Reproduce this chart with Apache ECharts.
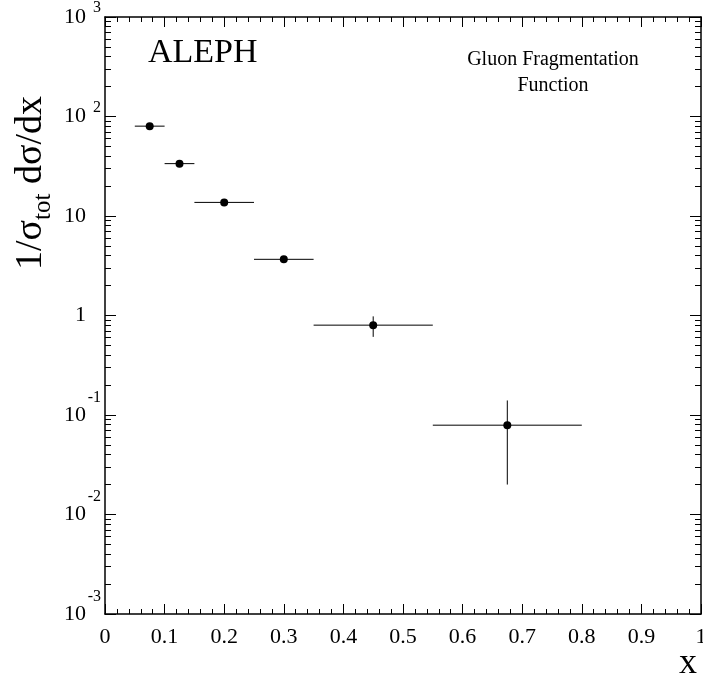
<!DOCTYPE html>
<html>
<head>
<meta charset="utf-8">
<script src="https://cdn.jsdelivr.net/npm/echarts@6/dist/echarts.min.js"></script>
<style>html,body{margin:0;padding:0;background:#fff}#c{width:703px;height:685px}</style>
</head>
<body>
<div id="c"></div>
<script>
// ---- data ----
var xCenter = [0.075, 0.125, 0.2, 0.3, 0.45, 0.675];
var xLow    = [0.05, 0.1, 0.15, 0.25, 0.35, 0.55];
var xHigh   = [0.1, 0.15, 0.25, 0.35, 0.55, 0.8];
var yValue  = [80, 33.6, 13.7, 3.67, 0.80, 0.079];
var yLow    = [77, 32.4, 13.2, 3.5, 0.61, 0.020];
var yHigh   = [83, 34.8, 14.2, 3.85, 0.98, 0.14];
var xTickLabels = ['0','0.1','0.2','0.3','0.4','0.5','0.6','0.7','0.8','0.9','1'];
var yDecades = [-3, -2, -1, 0, 1, 2];
var yMinorMantissas = [2, 3, 4, 5, 6, 7, 8, 9];

var yMinorExp = [];
yDecades.forEach(function (e) { yMinorMantissas.forEach(function (m) { yMinorExp.push(e + Math.log10(m)); }); });

var FONT = '"Liberation Serif", "Times New Roman", serif';
var chart = echarts.init(document.getElementById('c'), null, {renderer: 'canvas'});

var pts = xCenter.map(function (x, i) { return [x, yValue[i], xLow[i], xHigh[i], yLow[i], yHigh[i]]; });

function yLabel(v) {
  var e = Math.round(Math.log10(v));
  if (e === 0) return '{a|1}{p| }';
  if (e === 1) return '{a|10}{p| }';
  return '{a|10}{' + (e > 0 ? 'sp' : 'sn') + '|' + e + '}';
}

var lineStyle = {color: '#000', width: 1.5};
var baseX = {
  type: 'value', min: 0, max: 1, interval: 0.1,
  axisLine: {show: true, onZero: false, lineStyle: lineStyle},
  axisTick: {show: true, inside: true, length: 10, lineStyle: {color: '#000', width: 1}},
  minorTick: {show: true, splitNumber: 5, length: 5, lineStyle: {color: '#000', width: 1}},
  splitLine: {show: false}, minorSplitLine: {show: false}
};
var xBottom = Object.assign({}, baseX, {
  position: 'bottom',
  axisLabel: {show: true, margin: 12, color: '#000', fontFamily: FONT, fontSize: 22,
    showMaxLabel: true, showMinLabel: true, hideOverlap: false,
    formatter: function (v) { return xTickLabels[Math.round(v * 10)]; }}
});
var xTop = Object.assign({}, baseX, {position: 'top', axisLabel: {show: false}});

function yMajor(pos, labels) {
  return {
    type: 'log', logBase: 10, min: 0.001, max: 1000, position: pos,
    axisLine: {show: true, onZero: false, lineStyle: lineStyle},
    axisTick: {show: true, inside: true, length: 11, lineStyle: {color: '#000', width: 1}},
    splitLine: {show: false},
    axisLabel: labels ? {
      show: true, margin: 4, color: '#000', fontFamily: FONT, formatter: yLabel,
      showMinLabel: true, showMaxLabel: true, hideOverlap: false,
      rich: {
        a: {fontFamily: FONT, fontSize: 22, color: '#000'},
        sp: {fontFamily: FONT, fontSize: 16, color: '#000', width: 15, align: 'right', padding: [0, 0, 18, 0]},
        sn: {fontFamily: FONT, fontSize: 16, color: '#000', width: 15, align: 'right', padding: [0, 0, 35, 0]},
        p: {fontFamily: FONT, fontSize: 16, width: 15}
      }
    } : {show: false}
  };
}
function yMinor(pos) {
  return {
    type: 'value', min: -3, max: 3, position: pos,
    axisLine: {show: false, onZero: false},
    axisTick: {show: true, inside: true, length: 6, customValues: yMinorExp, lineStyle: {color: '#000', width: 1}},
    axisLabel: {show: false},
    splitLine: {show: false}
  };
}

chart.setOption({
  animation: false,
  backgroundColor: '#fff',
  grid: {left: 105, right: 2, top: 17, bottom: 71, containLabel: false, outerBoundsMode: 'none'},
  xAxis: [xBottom, xTop],
  yAxis: [yMajor('left', true), yMinor('left'), yMajor('right', false), yMinor('right')],
  graphic: [
    {type: 'text', left: 148, top: 36, style: {text: 'ALEPH', fontFamily: FONT, fontSize: 34, fill: '#000'}},
    {type: 'text', x: 553, y: 73, style: {text: 'Gluon Fragmentation\nFunction', fontFamily: FONT, fontSize: 20, lineHeight: 26, fill: '#000', align: 'center', verticalAlign: 'middle'}},
    {type: 'text', x: 688, y: 664, style: {text: 'x', fontFamily: FONT, fontSize: 36, fill: '#000', align: 'center', verticalAlign: 'middle'}},
    {type: 'text', x: 31, y: 183, rotation: Math.PI / 2,
      style: {text: '{m|1/σ}{t|tot}{m| dσ/dx}', align: 'center', verticalAlign: 'middle',
        rich: {
          m: {fontFamily: FONT, fontSize: 38, fill: '#000'},
          t: {fontFamily: FONT, fontSize: 25, fill: '#000', padding: [25, 0, 0, 0]}
        }}}
  ],
  series: [
    {
      type: 'custom', xAxisIndex: 0, yAxisIndex: 0, data: pts,
      encode: {x: 0, y: 1},
      renderItem: function (params, api) {
        var xc = api.value(0), y = api.value(1);
        var a = api.coord([api.value(2), y]);
        var b = api.coord([api.value(3), y]);
        var c = api.coord([xc, api.value(4)]);
        var d = api.coord([xc, api.value(5)]);
        var st = {stroke: '#000', lineWidth: 1};
        return {type: 'group', children: [
          {type: 'line', shape: {x1: a[0], y1: a[1], x2: b[0], y2: b[1]}, style: st},
          {type: 'line', shape: {x1: c[0], y1: c[1], x2: d[0], y2: d[1]}, style: st}
        ]};
      },
      z: 2
    },
    {
      type: 'scatter', xAxisIndex: 0, yAxisIndex: 0, data: pts.map(function (p) { return [p[0], p[1]]; }),
      symbol: 'circle', symbolSize: 8, itemStyle: {color: '#000', opacity: 1}, z: 3
    }
  ]
});
</script>
</body>
</html>
